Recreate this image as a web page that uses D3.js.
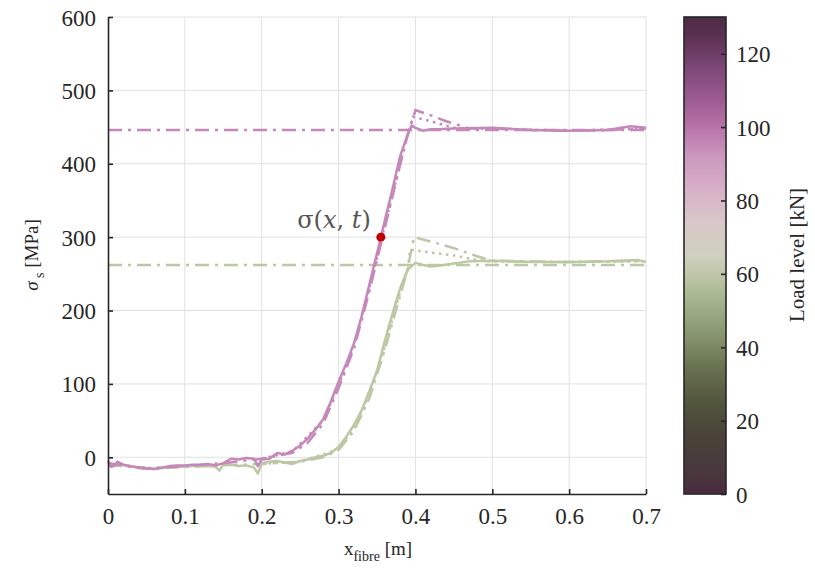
<!DOCTYPE html>
<html><head><meta charset="utf-8">
<script src="https://cdn.jsdelivr.net/npm/d3@7"></script>
<style>html,body{margin:0;padding:0;background:#fff;}svg{display:block;}</style>
</head><body><svg id="chart" width="815" height="572"></svg>
<script>
// ---------- data ----------
const xTicks = [0, 0.1, 0.2, 0.3, 0.4, 0.5, 0.6, 0.7];
const yTicks = [0, 100, 200, 300, 400, 500, 600];
const cbTicks = [0, 20, 40, 60, 80, 100, 120];
const loadLevels = [60, 100];            // green, pink
const lineColors = ["#bcc7a3", "#c688ba"];
const plateau = [262, 446];

// measured (solid)
const measX_g = [0,0.01,0.02,0.03,0.04,0.05,0.06,0.07,0.08,0.09,0.1,0.11,0.12,0.13,0.14,0.145,0.15,0.16,0.17,0.18,0.19,0.195,0.2,0.21,0.22,0.23,0.24,0.25,0.26,0.27,0.28,0.29,0.3,0.31,0.32,0.33,0.34,0.35,0.36,0.37,0.38,0.39,0.4,0.41,0.42,0.43,0.45,0.47,0.5,0.55,0.6,0.65,0.69,0.7];
const measY_g = [-8,-10,-11,-13,-14,-15,-16,-15,-13,-13,-13,-12,-12,-12,-13,-18,-10,-10,-12,-11,-14,-22,-8,-6,-5,-7,-9,-5,-3,0,2,6,14,28,44,64,90,118,158,195,230,256,265,262,260,261,264,267,268,266,266,267,269,266];
const measX_p = [0,0.004,0.008,0.012,0.02,0.03,0.04,0.05,0.06,0.07,0.08,0.09,0.1,0.11,0.12,0.13,0.14,0.15,0.16,0.17,0.18,0.19,0.195,0.2,0.21,0.22,0.23,0.24,0.25,0.26,0.27,0.28,0.29,0.3,0.31,0.32,0.33,0.34,0.35,0.36,0.37,0.38,0.39,0.395,0.4,0.41,0.42,0.43,0.45,0.5,0.55,0.6,0.65,0.68,0.7];
const measY_p = [-5,-13,-12,-6,-10,-12,-14,-15,-16,-14,-12,-11,-11,-10,-10,-9,-11,-8,-2,-3,-1,-2,-12,-3,-2,6,4,9,16,26,38,52,76,103,128,155,192,235,278,322,365,410,440,452,449,445,447,447,448,449,446,445,446,451,449];

// model A (dash-dot)
const modAX_g = [0,0.05,0.1,0.15,0.2,0.25,0.28,0.3,0.32,0.34,0.36,0.38,0.39,0.392,0.398,0.42,0.45,0.48,0.5,0.6,0.7];
const modAY_g = [-10,-16,-13,-11,-9,-6,0,10,36,80,146,220,256,268,300,294,285,274,268,266,268];
const modAX_p = [0,0.05,0.1,0.15,0.2,0.22,0.24,0.26,0.28,0.3,0.32,0.34,0.36,0.38,0.39,0.4,0.42,0.44,0.47,0.5,0.55,0.6,0.65,0.7];
const modAY_p = [-8,-15,-12,-8,-2,2,6,20,46,94,148,226,312,398,440,473,466,458,448,448,446,445,446,448];

// model B (dotted)
const modBX_g = [0.2,0.25,0.3,0.32,0.34,0.36,0.38,0.39,0.393,0.42,0.45,0.48,0.5,0.6,0.7];
const modBY_g = [-9,-6,11,40,85,150,225,256,283,279,275,269,267,266,267];
const modBX_p = [0.2,0.24,0.28,0.3,0.32,0.34,0.36,0.38,0.39,0.397,0.42,0.44,0.455,0.5,0.6,0.7];
const modBY_p = [-2,8,50,98,152,230,315,400,440,464,458,452,448,448,445,448];

// marked point
const pointX = [0.355];
const pointY = [300];

// colormap (kN -> colour)
const cmapStops = [0,8,17,26,35,44,54,58,65,74,83,92,100,108,117,125,130];
const cmapColors = ["#4a2c40","#483a3c","#4a4438","#545840","#6a7452","#8a9870","#a8b890","#b8c4a0","#d0d0c0","#d8c8c8","#d8b0c8","#cc98c0","#b873a8","#9a5a90","#7a4575","#5a3050","#4c2c45"];

// ---------- layout ----------
const svg = d3.select("#chart");
const L = 108, R = 646, T = 17, B = 494;
const x = d3.scaleLinear().domain([0, 0.7]).range([L, R]);
const y = d3.scaleLinear().domain([-50, 600]).range([B, T]);
const font = "'Liberation Serif','Times New Roman',serif";
const axCol = "#262626";

// grid
const grid = svg.append("g");
grid.selectAll("line.gx").data(xTicks.filter(d => d > 0)).enter().append("line")
  .attr("x1", d => x(d)).attr("x2", d => x(d)).attr("y1", T).attr("y2", B)
  .attr("stroke", "#e1e1e1").attr("stroke-width", 1);
grid.selectAll("line.gy").data(yTicks).enter().append("line")
  .attr("x1", L).attr("x2", R).attr("y1", d => y(d)).attr("y2", d => y(d))
  .attr("stroke", "#e1e1e1").attr("stroke-width", 1);

// series
const series = [
  {mx: measX_g, my: measY_g, ax: modAX_g, ay: modAY_g, bx: modBX_g, by: modBY_g, c: lineColors[0], p: plateau[0]},
  {mx: measX_p, my: measY_p, ax: modAX_p, ay: modAY_p, bx: modBX_p, by: modBY_p, c: lineColors[1], p: plateau[1]}
];
const lineLin = d3.line().x(d => x(d[0])).y(d => y(d[1]));
const plot = svg.append("g");
const sw = 2.5;
series.forEach(s => {
  plot.append("path").datum([[0, s.p], [0.7, s.p]]).attr("d", lineLin)
    .attr("fill", "none").attr("stroke", s.c).attr("stroke-width", sw).attr("stroke-dasharray", "14,6,3,6");
  plot.append("path").datum(s.bx.map((v, i) => [v, s.by[i]])).attr("d", lineLin)
    .attr("fill", "none").attr("stroke", s.c).attr("stroke-width", sw).attr("stroke-dasharray", "2.5,4.5");
  plot.append("path").datum(s.ax.map((v, i) => [v, s.ay[i]])).attr("d", lineLin)
    .attr("fill", "none").attr("stroke", s.c).attr("stroke-width", sw).attr("stroke-dasharray", "14,6,3,6");
  plot.append("path").datum(s.mx.map((v, i) => [v, s.my[i]])).attr("d", lineLin)
    .attr("fill", "none").attr("stroke", s.c).attr("stroke-width", sw).attr("stroke-linejoin", "round");
});

// point + label
plot.selectAll("circle.pt").data(pointX).enter().append("circle")
  .attr("cx", d => x(d)).attr("cy", (d, i) => y(pointY[i])).attr("r", 4.5).attr("fill", "#c00000");
const lab = svg.append("text").attr("x", x(pointX[0]) - 10).attr("y", y(pointY[0]) - 9)
  .attr("text-anchor", "end").attr("font-family", "'DejaVu Serif',serif").attr("font-size", 24).attr("fill", "#555");
lab.append("tspan").text("σ(");
lab.append("tspan").attr("font-style", "italic").text("x");
lab.append("tspan").text(", ");
lab.append("tspan").attr("font-style", "italic").text("t");
lab.append("tspan").text(")");

// axes
const xAxis = d3.axisBottom(x).tickValues(xTicks).tickFormat(d => d === 0 ? "0" : d3.format(".1f")(d)).tickSizeInner(-5).tickSizeOuter(0).tickPadding(14);
const yAxis = d3.axisLeft(y).tickValues(yTicks).tickFormat(d3.format("d")).tickSizeInner(-5).tickSizeOuter(0).tickPadding(12);
const gx = svg.append("g").attr("transform", `translate(0,${B})`).call(xAxis);
const gy = svg.append("g").attr("transform", `translate(${L},0)`).call(yAxis);
[gx, gy].forEach(g => {
  g.select(".domain").attr("stroke", axCol).attr("stroke-width", 1.6);
  g.selectAll(".tick line").attr("stroke", axCol).attr("stroke-width", 1.6);
  g.selectAll(".tick text").attr("fill", axCol).attr("font-family", font).attr("font-size", 23);
});
gy.selectAll(".tick text").attr("dy", "0.35em");

// axis titles
const xl = svg.append("text").attr("x", 378).attr("y", 555).attr("text-anchor", "middle")
  .attr("font-family", font).attr("font-size", 19).attr("fill", axCol);
xl.append("tspan").text("x");
xl.append("tspan").attr("font-size", 14).attr("dy", 6).text("fibre");
xl.append("tspan").attr("dy", -6).text(" [m]");
const yl = svg.append("text").attr("transform", "translate(38,255) rotate(-90)").attr("text-anchor", "middle")
  .attr("font-family", font).attr("font-size", 19).attr("fill", axCol);
yl.append("tspan").attr("font-style", "italic").text("σ");
yl.append("tspan").attr("font-size", 14).attr("dy", 6).text(" s");
yl.append("tspan").attr("dy", -6).text(" [MPa]");

// colorbar
const cbL = 684, cbR = 726;
const cy = d3.scaleLinear().domain([0, 130]).range([B, T]);
const defs = svg.append("defs");
const grad = defs.append("linearGradient").attr("id", "cb").attr("x1", 0).attr("y1", 1).attr("x2", 0).attr("y2", 0);
grad.selectAll("stop").data(cmapStops).enter().append("stop")
  .attr("offset", d => d / 130).attr("stop-color", (d, i) => cmapColors[i]);
svg.append("rect").attr("x", cbL).attr("y", T).attr("width", cbR - cbL).attr("height", B - T)
  .attr("fill", "url(#cb)").attr("stroke", axCol).attr("stroke-width", 1.6);
const cbAxis = d3.axisRight(cy).tickValues(cbTicks).tickSizeInner(-5).tickSizeOuter(0).tickPadding(10);
const gc = svg.append("g").attr("transform", `translate(${cbR},0)`).call(cbAxis);
gc.select(".domain").remove();
gc.selectAll(".tick line").attr("stroke", axCol).attr("stroke-width", 1.6);
gc.selectAll(".tick text").attr("fill", axCol).attr("font-family", font).attr("font-size", 23).attr("dy", "0.35em");
svg.append("text").attr("transform", "translate(797,255) rotate(-90)").attr("text-anchor", "middle")
  .attr("dy", "0.35em").attr("font-family", font).attr("font-size", 21).attr("fill", axCol).text("Load level [kN]");
</script></body></html>
